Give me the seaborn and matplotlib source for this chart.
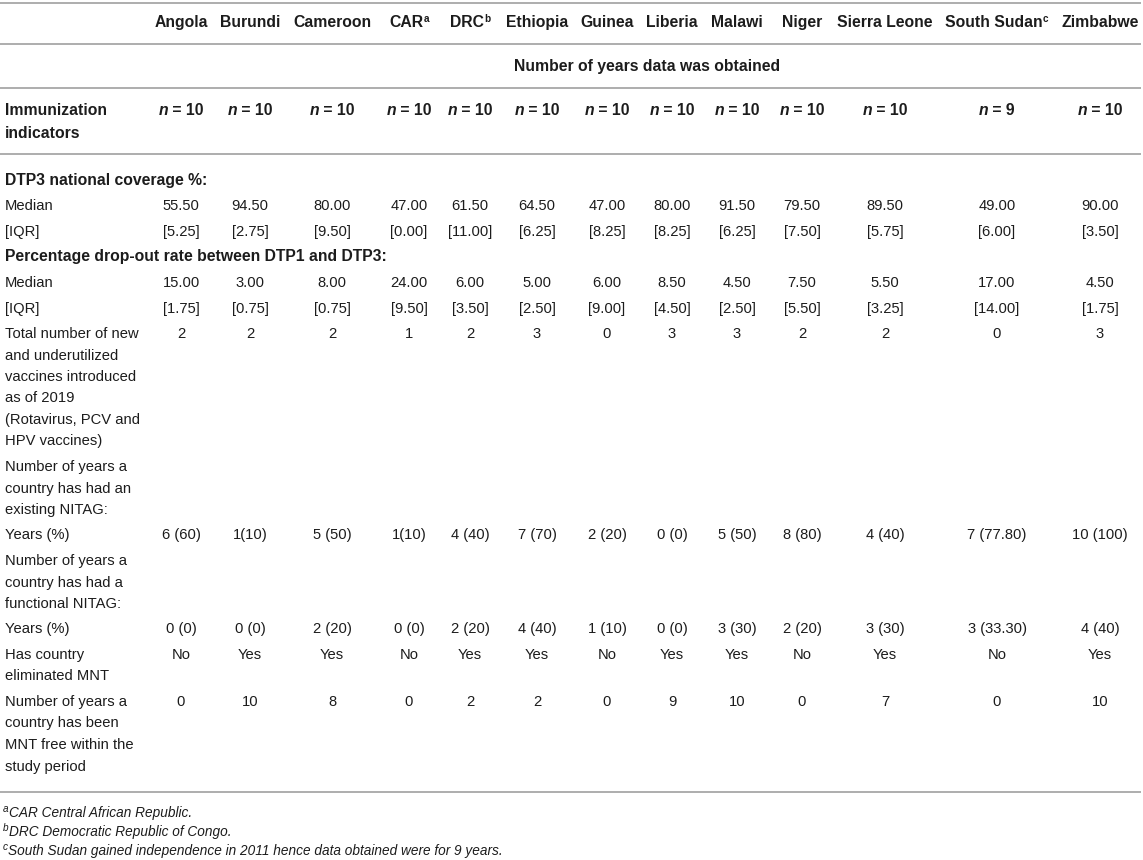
import matplotlib
matplotlib.use("Agg")
import matplotlib.pyplot as plt
import seaborn as sns

# ---------------- data ----------------
countries = ["Angola", "Burundi", "Cameroon", "CAR", "DRC", "Ethiopia", "Guinea",
             "Liberia", "Malawi", "Niger", "Sierra Leone", "South Sudan", "Zimbabwe"]
country_sup = ["", "", "", "a", "b", "", "", "", "", "", "", "c", ""]
n_years = [10, 10, 10, 10, 10, 10, 10, 10, 10, 10, 10, 9, 10]
dtp3_median = [55.50, 94.50, 80.00, 47.00, 61.50, 64.50, 47.00, 80.00, 91.50, 79.50, 89.50, 49.00, 90.00]
dtp3_iqr = [5.25, 2.75, 9.50, 0.00, 11.00, 6.25, 8.25, 8.25, 6.25, 7.50, 5.75, 6.00, 3.50]
drop_median = [15.00, 3.00, 8.00, 24.00, 6.00, 5.00, 6.00, 8.50, 4.50, 7.50, 5.50, 17.00, 4.50]
drop_iqr = [1.75, 0.75, 0.75, 9.50, 3.50, 2.50, 9.00, 4.50, 2.50, 5.50, 3.25, 14.00, 1.75]
new_vaccines = [2, 2, 2, 1, 2, 3, 0, 3, 3, 2, 2, 0, 3]
nitag_existing = ["6 (60)", "1(10)", "5 (50)", "1(10)", "4 (40)", "7 (70)", "2 (20)",
                  "0 (0)", "5 (50)", "8 (80)", "4 (40)", "7 (77.80)", "10 (100)"]
nitag_functional = ["0 (0)", "0 (0)", "2 (20)", "0 (0)", "2 (20)", "4 (40)", "1 (10)",
                    "0 (0)", "3 (30)", "2 (20)", "3 (30)", "3 (33.30)", "4 (40)"]
mnt_eliminated = ["No", "Yes", "Yes", "No", "Yes", "Yes", "No", "Yes", "Yes", "No", "Yes", "No", "Yes"]
mnt_free_years = [0, 10, 8, 0, 2, 2, 0, 9, 10, 0, 7, 0, 10]

span_header = "Number of years data was obtained"
footnotes = [("a", "CAR Central African Republic."),
             ("b", "DRC Democratic Republic of Congo."),
             ("c", "South Sudan gained independence in 2011 hence data obtained were for 9 years.")]

# ---------------- layout ----------------
W, H = 1143, 860
col_x = [181, 250, 332, 409, 470, 537, 607, 672, 737, 802, 885, 997, 1100]
label_x = 5
line_pitch = 21.5     # between lines inside one cell
row_pitch = 25.5      # between rows
body_top = 180
fs = 10.6
fs_bold = 11.3
fs_small = 7.2
fs_note = 9.8
txt_col = "#1c1c1c"
rule_col = "#adadad"
base_off = 5.0

sns.set_theme(style="white")
plt.rcParams['font.family'] = ['Liberation Sans', 'DejaVu Sans']

fig = plt.figure(figsize=(W / 100, H / 100), dpi=100)
fig.patch.set_facecolor("white")
ax = fig.add_axes([0, 0, 1, 1])
ax.set_xlim(0, W)
ax.set_ylim(H, 0)
ax.axis("off")
renderer = fig.canvas.get_renderer()

BOLD = dict(fontweight="bold", fontsize=fs_bold)


def runs_text(x, yc, runs, ha="center"):
    """runs: list of (string, props dict, dy)"""
    objs, widths = [], []
    for s, props, dy in runs:
        p = dict(fontsize=fs, color=txt_col)
        p.update(props)
        t = ax.text(0, yc + base_off + dy, s, va="baseline", ha="left", **p)
        bb = t.get_window_extent(renderer=renderer)
        objs.append(t)
        widths.append(bb.width)
    total = sum(widths)
    cur = x - total / 2 if ha == "center" else x
    for t, w in zip(objs, widths):
        t.set_x(cur)
        cur += w


def rule(y):
    ax.plot([0, W - 2], [y, y], color=rule_col, lw=1.4, solid_capstyle="butt")


# rules
for y in [3, 43.5, 88, 154, 792]:
    rule(y)

# header row
for x, c, s in zip(col_x, countries, country_sup):
    runs = [(c, BOLD, 0)]
    if s:
        runs.append((s, dict(fontweight="bold", fontsize=fs_small), -5.5))
    runs_text(x, 22, runs)

# span header
runs_text((col_x[0] + col_x[-1]) / 2 + 7, 66, [(span_header, BOLD, 0)])

# n row
runs_text(label_x, 110, [("Immunization", BOLD, 0)], ha="left")
runs_text(label_x, 133, [("indicators", BOLD, 0)], ha="left")
for x, n in zip(col_x, n_years):
    runs_text(x, 110, [("n", dict(fontweight="bold", style="italic", fontsize=fs_bold), 0),
                       (f" = {n}", BOLD, 0)])

# body rows
rows = [
    (["DTP3 national coverage %:"], True, None),
    (["Median"], False, [f"{v:.2f}" for v in dtp3_median]),
    (["[IQR]"], False, [f"[{v:.2f}]" for v in dtp3_iqr]),
    (["Percentage drop-out rate between DTP1 and DTP3:"], True, None),
    (["Median"], False, [f"{v:.2f}" for v in drop_median]),
    (["[IQR]"], False, [f"[{v:.2f}]" for v in drop_iqr]),
    (["Total number of new", "and underutilized", "vaccines introduced", "as of 2019",
      "(Rotavirus, PCV and", "HPV vaccines)"], False, [str(v) for v in new_vaccines]),
    (["Number of years a", "country has had an", "existing NITAG:"], False, None),
    (["Years (%)"], False, nitag_existing),
    (["Number of years a", "country has had a", "functional NITAG:"], False, None),
    (["Years (%)"], False, nitag_functional),
    (["Has country", "eliminated MNT"], False, mnt_eliminated),
    (["Number of years a", "country has been", "MNT free within the", "study period"], False,
     [str(v) for v in mnt_free_years]),
]

y = body_top
for lines, bold, vals in rows:
    for k, ln in enumerate(lines):
        runs_text(label_x, y + k * line_pitch,
                  [(ln, BOLD if bold else {}, 0)], ha="left")
    if vals is not None:
        for x, v in zip(col_x, vals):
            runs_text(x, y, [(v, {}, 0)])
    y += (len(lines) - 1) * line_pitch + row_pitch

# footnotes
for i, (sup, note) in enumerate(footnotes):
    yc = 812 + i * 19
    runs_text(3, yc, [(sup, dict(style="italic", fontsize=fs_small), -5),
                      (note, dict(style="italic", fontsize=fs_note), 0)], ha="left")

fig.savefig("out.png", dpi=100, facecolor="white")
